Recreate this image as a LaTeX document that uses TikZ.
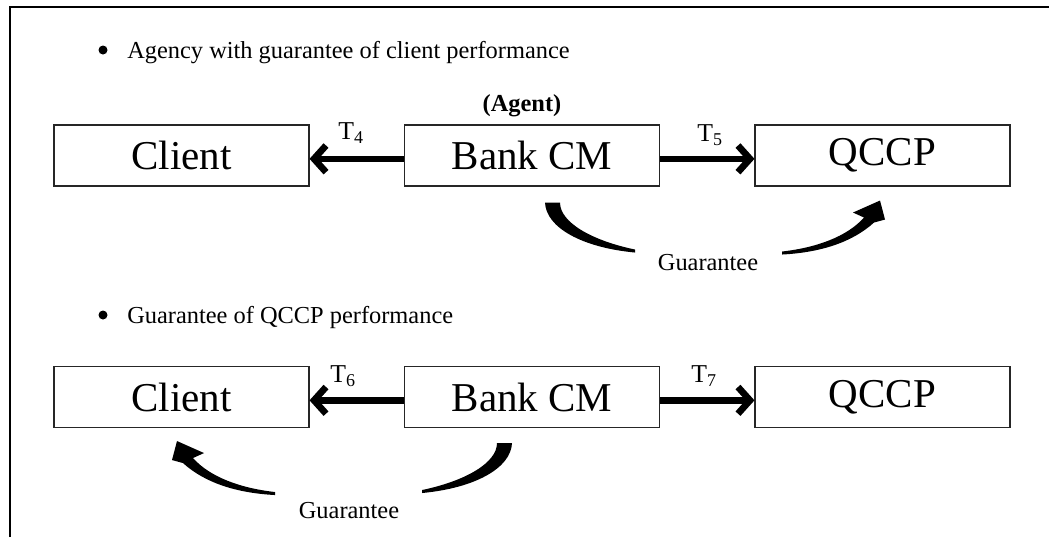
\documentclass[tikz,border=0pt]{standalone}
\usepackage{fontspec}
\setmainfont{Liberation Serif}
\usetikzlibrary{arrows.meta,calc}
\begin{document}
\begin{tikzpicture}[x=0.75pt,y=-0.75pt,
  box/.style={draw=black!85,line width=0.8pt,minimum width=191.25pt,minimum height=45.75pt,inner sep=0pt,font=\fontsize{30.75}{36}\selectfont},
  bigarrow/.style={line width=5pt,-{Straight Barb[length=9pt,width=20pt]}},
  tlab/.style={font=\fontsize{19.3}{23}\selectfont,inner sep=0pt},
  small/.style={font=\fontsize{18.3}{22}\selectfont,inner sep=0pt},
  agentlab/.style={font=\fontsize{18.3}{22}\selectfont\bfseries,inner sep=0pt},
  curvefill/.style={fill=black,draw=none}]
\useasboundingbox (0,0) rectangle (1049,537);
\draw[line width=1.5pt] (10,537) -- (10,7) -- (1049,7);

% first section
\fill (103,50) circle (4.5);
\node[small,anchor=base west] (b1) at (127,58) {Agency with guarantee of client performance};
\node[agentlab] (agent) at (522,106) {(Agent)};
\node[box] (client1) at (181.5,155.5) {Client};
\node[box] (bank1) at (532,155.5) {Bank CM};
\node[box] (qccp1) at (882.5,155.5) {QCCP};
\draw[bigarrow] ([yshift=-2.5pt]bank1.west) -- ([yshift=-2.5pt]client1.east);
\draw[bigarrow] ([yshift=-2.5pt]bank1.east) -- ([yshift=-2.5pt]qccp1.west);
\node[tlab] (t4) at (351,133) {T\textsubscript{4}};
\node[tlab] (t5) at (710,135) {T\textsubscript{5}};
\begin{scope}[shift={($(bank1.south)+(20,16)$)}]
  \fill[curvefill] (-7,0) .. controls (-6,25) and (30,45) .. (83,50)
     -- (83,47) .. controls (40,38) and (8,20) .. (8,0) -- cycle;
  \fill[curvefill] (230,49) .. controls (265,45) and (295,34) .. (312,15)
     -- (301,10) -- (328,-2) -- (333,17) -- (322,20)
     .. controls (300,40) and (268,50) .. (230,52) -- cycle;
  \node[small] (g1) at (156,60) {Guarantee};
\end{scope}

% second section
\fill (103,315) circle (4.5);
\node[small,anchor=base west] (b2) at (127,323) {Guarantee of QCCP performance};
\node[box] (client2) at (181.5,397) {Client};
\node[box] (bank2) at (532,397) {Bank CM};
\node[box] (qccp2) at (882.5,397) {QCCP};
\draw[bigarrow] ([yshift=-2.5pt]bank2.west) -- ([yshift=-2.5pt]client2.east);
\draw[bigarrow] ([yshift=-2.5pt]bank2.east) -- ([yshift=-2.5pt]qccp2.west);
\node[tlab] (t6) at (343,376) {T\textsubscript{6}};
\node[tlab] (t7) at (704,376) {T\textsubscript{7}};
\begin{scope}[shift={($(bank2.south)+(-27,15)$)},xscale=-1]
  \fill[curvefill] (-7,0) .. controls (-6,25) and (30,45) .. (83,50)
     -- (83,47) .. controls (40,38) and (8,20) .. (8,0) -- cycle;
  \fill[curvefill] (230,49) .. controls (265,45) and (295,34) .. (312,15)
     -- (301,10) -- (328,-2) -- (333,17) -- (322,20)
     .. controls (300,40) and (268,50) .. (230,52) -- cycle;
  \node[small] (g2) at (156,67) {Guarantee};
\end{scope}
\end{tikzpicture}
\end{document}
